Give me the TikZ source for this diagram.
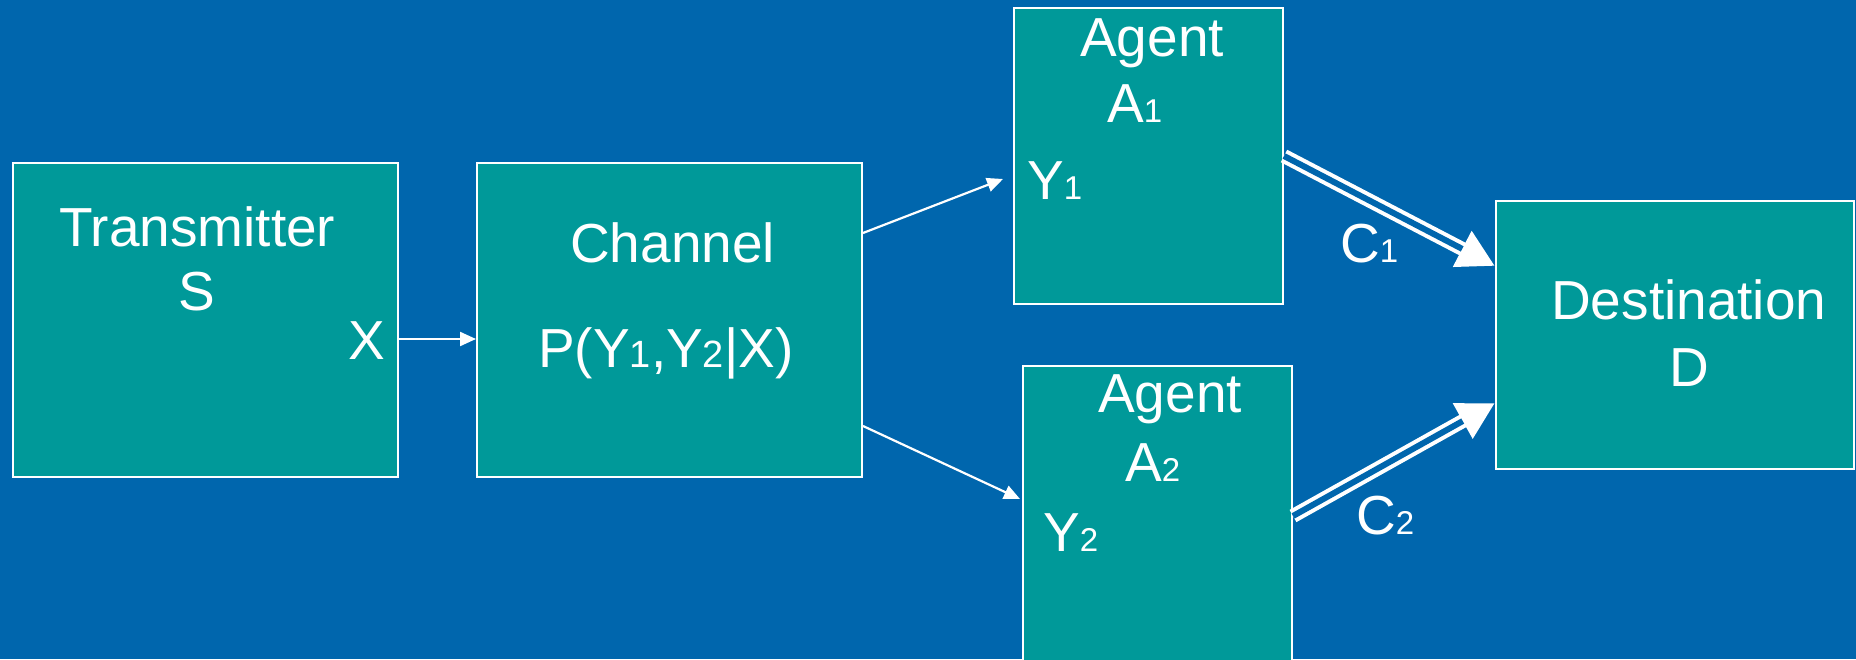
\documentclass[tikz,border=0pt]{standalone}
\usepackage{fontspec}
\setmainfont{Liberation Sans}
\usetikzlibrary{arrows.meta}
\definecolor{bgblue}{HTML}{0066AD}
\definecolor{boxteal}{HTML}{009999}
% small baseline-aligned indices
\newcommand\agidx[1]{{\fontsize{33}{33}\selectfont #1}}
\newcommand\chidx[1]{{\fontsize{38}{38}\selectfont #1}}
\begin{document}
\begin{tikzpicture}[x=1pt,y=1pt,
  box/.style={draw=white, fill=boxteal, line width=2pt, rectangle, inner sep=0pt, anchor=north west},
  lbl/.style={text=white, inner sep=0pt, font=\fontsize{55}{60}\selectfont},
  flow/.style={draw=white, line width=2.2pt, -{Triangle[length=16pt,width=14pt]}},
  wide/.style={draw=white, line width=14pt, -{Triangle[length=37pt,width=38pt]}},
  wideinner/.style={draw=bgblue, line width=6pt, shorten >=37pt}]
\fill[bgblue] (0,0) rectangle (1856,659);
\clip (0,0) rectangle (1856,659);

% blocks
\node[box, minimum width=385pt, minimum height=314pt] (tx) at (12,497) {};
\node[box, minimum width=385pt, minimum height=314pt] (ch) at (476,497) {};
\node[box, minimum width=269pt, minimum height=296pt] (a1) at (1013,652) {};
\node[box, minimum width=269pt, minimum height=300pt] (a2) at (1022,294) {};
\node[box, minimum width=358pt, minimum height=268pt] (d) at (1495,459) {};

% signal flow
\draw[flow] ([yshift=-19pt]tx.east) -- ([yshift=-19pt]ch.west);
\draw[flow] ([yshift=87pt]ch.east) -- ([xshift=-10pt,yshift=-23pt]a1.west);
\draw[flow] ([yshift=-106pt]ch.east) -- ([xshift=-2pt,yshift=17pt]a2.west);

% capacity links (double lines)
\draw[wide] (a1.east) -- ([yshift=69pt]d.west);
\draw[wideinner] (a1.east) -- ([yshift=69pt]d.west);
\draw[wide] (a2.east) -- ([yshift=-68pt]d.west);
\draw[wideinner] (a2.east) -- ([yshift=-68pt]d.west);

% labels
\node[lbl, anchor=base west] (tTx) at (59,412) {Transmitter};
\node[lbl, anchor=base] (tS) at (196.5,348) {S};
\node[lbl, anchor=base] (tX) at (366.5,299) {X};
\node[lbl, anchor=base west] (tCh) at (570,396) {Channel};
\node[lbl, anchor=base west] (tP) at (538,291) {P(Y\chidx{1},Y\chidx{2}|X)};
\node[lbl, anchor=base west] (tAg1) at (1080,602) {Agent};
\node[lbl, anchor=base west] (tA1) at (1107,536) {A\agidx{1}};
\node[lbl, anchor=base west] (tY1) at (1027,459) {Y\agidx{1}};
\node[lbl, anchor=base west] (tAg2) at (1098,246) {Agent};
\node[lbl, anchor=base west] (tA2) at (1125,177) {A\agidx{2}};
\node[lbl, anchor=base west] (tY2) at (1043,107) {Y\agidx{2}};
\node[lbl, anchor=base west] (tC1) at (1340,396) {C\agidx{1}};
\node[lbl, anchor=base west] (tC2) at (1356,124) {C\agidx{2}};
\node[lbl, anchor=base west] (tD1) at (1551,339) {Destination};
\node[lbl, anchor=base] (tD) at (1689,272) {D};
\end{tikzpicture}
\end{document}
